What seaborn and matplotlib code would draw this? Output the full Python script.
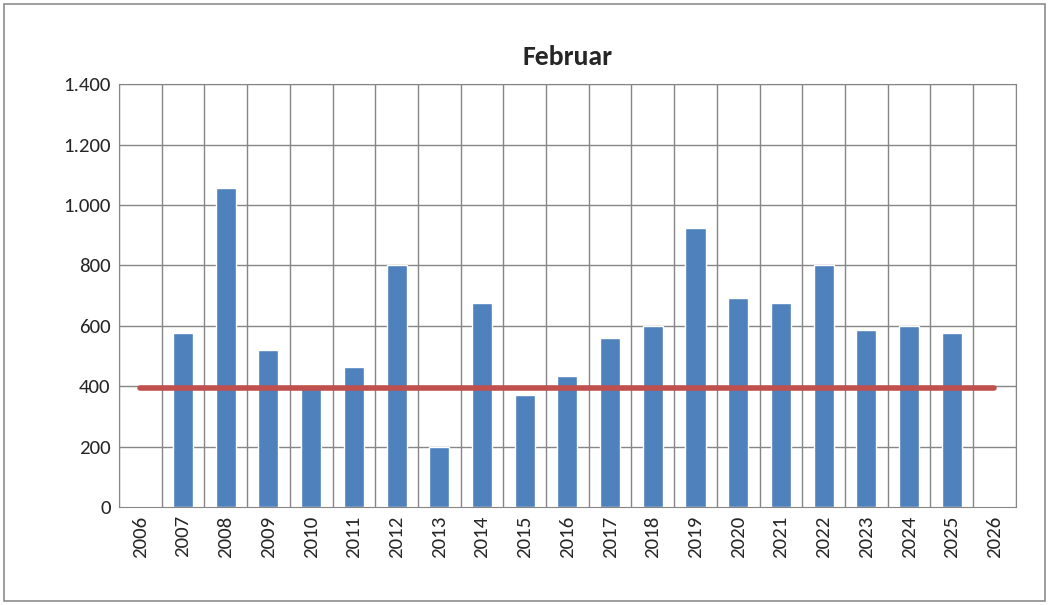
import numpy as np
import pandas as pd
import matplotlib.pyplot as plt
import seaborn as sns
from matplotlib.ticker import FuncFormatter, MultipleLocator
from matplotlib.patches import Rectangle

years = [str(y) for y in range(2006, 2027)]
values = [np.nan, 575, 1055, 520, 395, 465, 800, 200, 675, 370, 435, 558,
          600, 925, 693, 675, 800, 585, 600, 575, np.nan]
mean_value = 395

sns.set_style("white")
plt.rcParams['font.family'] = ['Carlito', 'Liberation Sans', 'DejaVu Sans']

fig = plt.figure(figsize=(10.49, 6.05), dpi=100)
ax = fig.add_axes([0.1134, 0.162, 0.855, 0.699])
fig.patches.append(Rectangle((0.004, 0.006), 0.992, 0.988, transform=fig.transFigure,
                             fill=False, edgecolor='#8c8c8c', linewidth=1.2))

df = pd.DataFrame({'year': years, 'value': values})
pos = np.arange(len(years))
sns.barplot(x=pos, y=df['value'], color='#4f81bd', width=0.47, saturation=1, ax=ax)
sns.lineplot(x=pos, y=[mean_value] * len(years), color='#c0504d', linewidth=4, ax=ax)

ax.set_xlim(-0.5, len(years) - 0.5)
ax.set_ylim(0, 1400)
ax.yaxis.set_major_locator(MultipleLocator(200))
ax.yaxis.set_major_formatter(FuncFormatter(lambda v, p: f"{int(v):,}".replace(',', '.')))
ax.set_xticks(pos)
ax.set_xticklabels(years, rotation=90)
ax.set_xticks(np.arange(len(years) + 1) - 0.5, minor=True)
ax.tick_params(axis='x', which='major', length=0, labelsize=15, pad=6)
ax.tick_params(axis='x', which='minor', length=6, color='#868686')
ax.tick_params(axis='y', labelsize=15, length=0, pad=6)
ax.grid(False)
for b in np.arange(len(years) + 1) - 0.5:
    ax.axvline(b, color='#868686', linewidth=1, zorder=0)
for v in range(200, 1401, 200):
    ax.axhline(v, color='#868686', linewidth=1, zorder=0)
for s in ax.spines.values():
    s.set_color('#868686')
ax.set_xlabel('')
ax.set_ylabel('')
ax.set_title('Februar', fontsize=20, fontweight='bold', pad=14)

fig.savefig('out.png', dpi=100)
